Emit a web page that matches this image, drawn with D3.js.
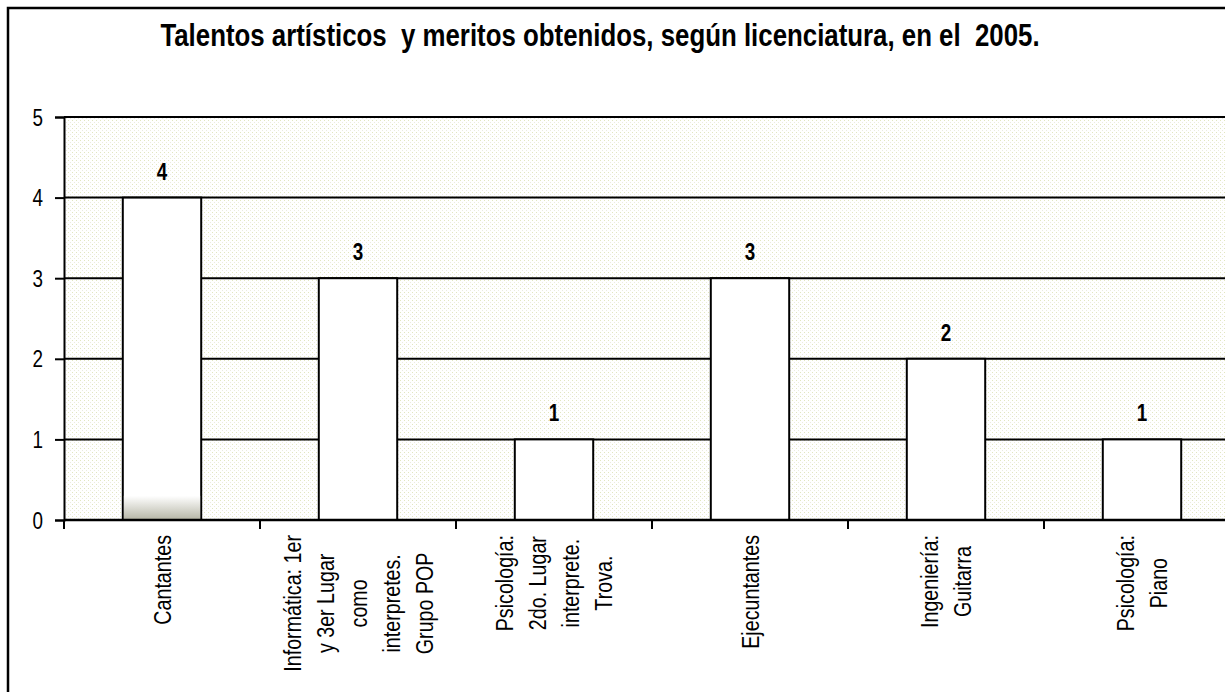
<!DOCTYPE html>
<html>
<head>
<meta charset="utf-8">
<script src="https://cdn.jsdelivr.net/npm/d3@7"></script>
<style>
  html, body { margin: 0; padding: 0; background: #fff; overflow: hidden; }
</style>
</head>
<body>
<div id="chart-container"></div>
<script>
// datos del gráfico
const title = "Talentos artísticos  y meritos obtenidos, según licenciatura, en el  2005.";
const categories = [
  "Cantantes",
  "Informática: 1er y 3er Lugar como interpretes. Grupo POP",
  "Psicología: 2do. Lugar interprete. Trova.",
  "Ejecuntantes",
  "Ingeniería: Guitarra",
  "Psicología: Piano"
];
const categoryLines = [
  ["Cantantes"],
  ["Informática: 1er", "y 3er Lugar", "como", "interpretes.", "Grupo POP"],
  ["Psicología:", "2do. Lugar", "interprete.", "Trova."],
  ["Ejecuntantes"],
  ["Ingeniería:", "Guitarra"],
  ["Psicología:", "Piano"]
];
const values = [4, 3, 1, 3, 2, 1];
const yTicks = [0, 1, 2, 3, 4, 5];

const width = 1225, height = 692;
const marginLeft = 64, plotRight = 1240, marginTop = 117, plotBottom = 520;

// fuente tipo Arial Narrow: Liberation Sans comprimida en horizontal
const FONT = "'Liberation Sans', Arial, sans-serif";
const SX = 0.82;

const svg = d3.select("#chart-container")
  .append("svg")
  .attr("width", width)
  .attr("height", height);

const defs = svg.append("defs");
const pat = defs.append("pattern")
  .attr("id", "dots")
  .attr("width", 4).attr("height", 4)
  .attr("patternUnits", "userSpaceOnUse");
pat.append("rect").attr("width", 4).attr("height", 4).attr("fill", "#ffffff");
pat.append("rect").attr("x", 0).attr("y", 0).attr("width", 1).attr("height", 1).attr("fill", "#e2e6c0");
pat.append("rect").attr("x", 2).attr("y", 2).attr("width", 1).attr("height", 1).attr("fill", "#ebebdf");

const grad = defs.append("linearGradient")
  .attr("id", "barShade")
  .attr("x1", 0).attr("y1", 0).attr("x2", 0).attr("y2", 1);
grad.append("stop").attr("offset", "0%").attr("stop-color", "#ffffff");
grad.append("stop").attr("offset", "100%").attr("stop-color", "#9a9a84");

// escalas
const slotScale = d3.scaleBand()
  .domain(categories)
  .range([marginLeft, plotRight])
  .padding(0);

const xScale = d3.scaleBand()
  .domain(categories)
  .range([marginLeft, plotRight])
  .paddingInner(0.6)
  .paddingOuter(0.3);

const yScale = d3.scaleLinear()
  .domain([0, 5])
  .range([plotBottom, marginTop]);

// marco exterior
svg.append("rect")
  .attr("x", 8).attr("y", 8)
  .attr("width", 1400).attr("height", 900)
  .attr("fill", "none")
  .attr("stroke", "#000")
  .attr("stroke-width", 2.5);

// título
svg.append("text")
  .attr("transform", `translate(600, 46) scale(${SX},1)`)
  .attr("text-anchor", "middle")
  .style("white-space", "pre")
  .style("font-family", FONT)
  .style("font-weight", "bold")
  .style("font-size", "31.5px")
  .text(title);

// área de trazado
svg.append("rect")
  .attr("x", marginLeft).attr("y", marginTop)
  .attr("width", plotRight - marginLeft)
  .attr("height", plotBottom - marginTop)
  .attr("fill", "url(#dots)");

// líneas de cuadrícula
svg.append("g")
  .selectAll("line")
  .data(yTicks)
  .join("line")
  .attr("x1", marginLeft).attr("x2", plotRight)
  .attr("y1", d => yScale(d)).attr("y2", d => yScale(d))
  .attr("stroke", "#000")
  .attr("stroke-width", 2);

// eje Y
const yAxis = svg.append("g")
  .attr("transform", `translate(${marginLeft},0)`)
  .call(d3.axisLeft(yScale).tickValues(yTicks).tickSize(9).tickPadding(12).tickFormat(d3.format("d")));
yAxis.select(".domain").attr("stroke", "#000").attr("stroke-width", 2);
yAxis.selectAll(".tick line").attr("stroke", "#000").attr("stroke-width", 2);
yAxis.selectAll(".tick text")
  .attr("x", null).attr("dy", null)
  .attr("transform", `translate(-21,8) scale(${SX},1)`)
  .attr("fill", "#000")
  .style("font-family", FONT)
  .style("font-size", "23px");

// barras
svg.append("g")
  .selectAll("rect")
  .data(values)
  .join("rect")
  .attr("x", (d, i) => xScale(categories[i]))
  .attr("y", d => yScale(d))
  .attr("width", xScale.bandwidth())
  .attr("height", d => plotBottom - yScale(d))
  .attr("fill", "#fff")
  .attr("stroke", "#000")
  .attr("stroke-width", 2);

// sombreado al pie de la primera barra
svg.append("rect")
  .attr("x", xScale(categories[0]) + 1)
  .attr("y", yScale(0.3))
  .attr("width", xScale.bandwidth() - 2)
  .attr("height", plotBottom - yScale(0.3) - 1)
  .attr("fill", "url(#barShade)")
  .attr("opacity", 0.7);

// etiquetas de valor
svg.append("g")
  .selectAll("text")
  .data(values)
  .join("text")
  .attr("transform", (d, i) => `translate(${xScale(categories[i]) + xScale.bandwidth() / 2},${yScale(d) - 18}) scale(${SX},1)`)
  .attr("text-anchor", "middle")
  .style("font-family", FONT)
  .style("font-weight", "bold")
  .style("font-size", "23px")
  .text(d => d);

// eje X
svg.append("line")
  .attr("x1", marginLeft).attr("x2", plotRight)
  .attr("y1", plotBottom).attr("y2", plotBottom)
  .attr("stroke", "#000").attr("stroke-width", 2.5);

svg.append("g")
  .selectAll("line")
  .data(categories)
  .join("line")
  .attr("x1", d => slotScale(d)).attr("x2", d => slotScale(d))
  .attr("y1", plotBottom).attr("y2", plotBottom + 9)
  .attr("stroke", "#000").attr("stroke-width", 2);

// etiquetas de categoría giradas
const lineGap = 33;
const labelTop = 535;
categories.forEach((cat, i) => {
  const lines = categoryLines[i];
  const cx = slotScale(cat) + slotScale.bandwidth() / 2;
  const g = svg.append("g");
  const texts = g.selectAll("text")
    .data(lines)
    .join("text")
    .attr("text-anchor", "middle")
    .style("font-family", FONT)
    .style("font-size", "24px")
    .text(d => d);
  let maxLen = 0;
  texts.each(function () { maxLen = Math.max(maxLen, this.getComputedTextLength()); });
  maxLen *= SX;
  const n = lines.length;
  texts.attr("transform", (d, j) =>
    `translate(${cx + (j - (n - 1) / 2) * lineGap + 8.5},${labelTop + maxLen / 2}) rotate(-90) scale(${SX},1)`);
});
</script>
</body>
</html>
